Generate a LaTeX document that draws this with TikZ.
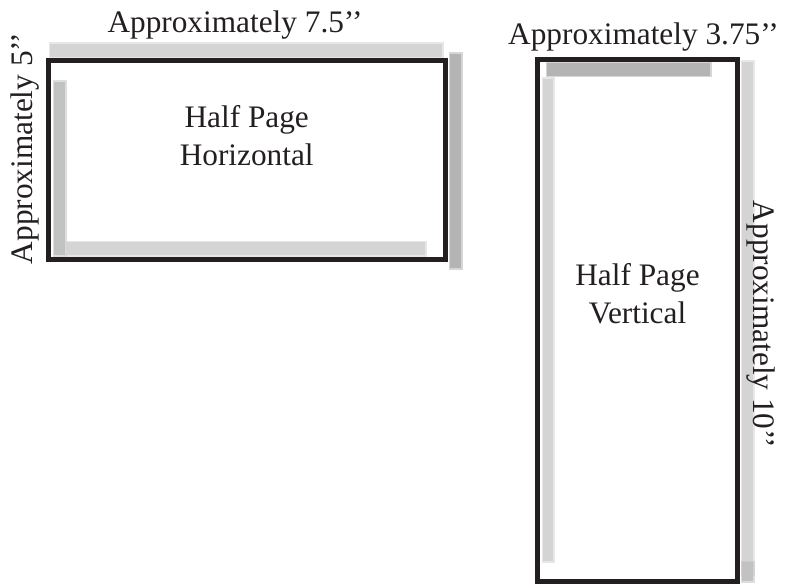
\documentclass[tikz,border=0pt]{standalone}
\usepackage{fontspec}
\setmainfont{Liberation Serif}
\usetikzlibrary{positioning}
\definecolor{ink}{HTML}{231F20}
\definecolor{shadelight}{HTML}{D4D4D4}
\definecolor{shadedark}{HTML}{B4B4B4}
\definecolor{shademid}{HTML}{C2C2C2}

\begin{document}
\begin{tikzpicture}[x=1pt,y=-1pt,
		font=\fontsize{31.3}{38}\selectfont,text=ink,
		page/.style={draw=ink,line width=5pt,inner sep=0pt},
		caption/.style={inner sep=0pt,anchor=base},
		shadebar/.style={fill=#1,draw=#1,draw opacity=.55,line width=3pt}
		]
		\useasboundingbox (0,0) rectangle (799,585);
		% soft shadows, horizontal page
		\fill[shadebar=shadelight] (50,44) rectangle (442,57);
		\fill[shadebar=shadedark] (450,54) rectangle (461,268);
		\fill[shadebar=shademid] (54,82) rectangle (65,255);
		\fill[shadebar=shadelight] (66,242) rectangle (425,255);
		% soft shadows, vertical page
		\fill[shadebar=shadedark] (547,63) rectangle (710,76);
		\fill[shadebar=shadelight] (543,79) rectangle (553,561);
		\fill[shadebar=shadelight] (742,62) rectangle (753,574);
		\fill[shadebar=shademid] (742,562) rectangle (753,581);
		% the two pages
		\node[page,minimum width=397.5pt,minimum height=198.5pt] (hpage) at (246.75,159.75) {};
		\node[page,minimum width=199.5pt,minimum height=521.5pt] (vpage) at (637.5,320.75) {};
		% sizes
		\node[caption] (hwidth) at (235,33) {Approximately 7.5’’};
		\node[caption,rotate=90] (hheight) at (32,148.5) {Approximately 5’’};
		\node[caption] (vwidth) at (643.5,45) {Approximately 3.75’’};
		\node[caption,rotate=-90] (vheight) at (753,324.5) {Approximately 10’’};
		% names
		\node[inner sep=0pt,align=center] (hname) at (hpage.center |- 0,136) {Half Page\\Horizontal};
		\node[inner sep=0pt,align=center] (vname) at (vpage.center |- 0,293.5) {Half Page\\Vertical};
\end{tikzpicture}
\end{document}
